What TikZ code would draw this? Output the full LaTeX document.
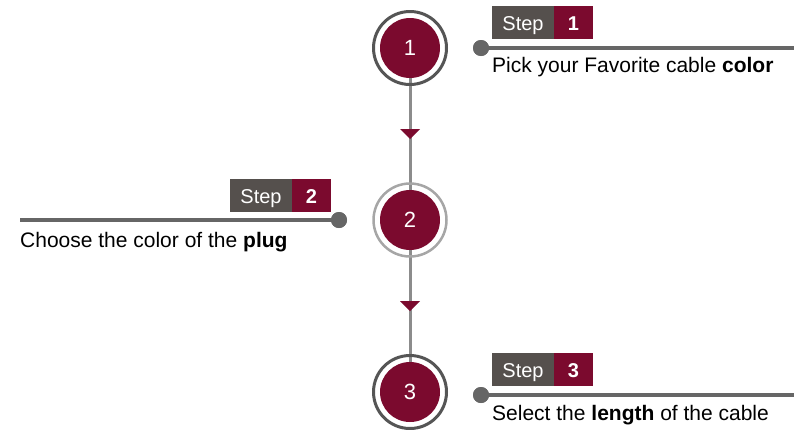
\documentclass[tikz,border=0pt]{standalone}
\usepackage{fontspec}
\setmainfont{Liberation Sans}
\usetikzlibrary{calc}
\definecolor{maroon}{HTML}{7B0A2E}
\definecolor{boxgray}{HTML}{55504D}
\definecolor{linegray}{HTML}{666666}
\definecolor{stemgray}{HTML}{8C8C8C}
\definecolor{ringdark}{HTML}{555555}
\definecolor{ringlight}{HTML}{A6A6A6}
\tikzset{
  x=1pt, y=-1pt,
  stepcircle/.style={circle, fill=maroon, minimum size=60pt, inner sep=0pt, text=white, font=\fontsize{22}{22}\selectfont},
  stepword/.style={fill=boxgray, text=white, minimum width=62pt, minimum height=33pt, inner sep=0pt, text height=16pt, text depth=0pt, font=\fontsize{20}{20}\selectfont},
  stepnum/.style={fill=maroon, text=white, minimum width=39pt, minimum height=33pt, inner sep=0pt, text height=16pt, text depth=0pt, font=\fontsize{20}{20}\selectfont\bfseries},
  leader/.style={draw=linegray, line width=3.5pt},
  leaderdot/.style={circle, fill=linegray, minimum size=16pt, inner sep=0pt},
  caption/.style={anchor=base west, inner sep=0pt, font=\fontsize{21}{21}\selectfont},
  stem/.style={draw=stemgray, line width=3pt},
  downtri/.style={fill=maroon}
}
\begin{document}
\begin{tikzpicture}
\useasboundingbox (0,0) rectangle (794,429);
% circle positions
\coordinate (p1) at (410,48);
\coordinate (p2) at (410,220);
\coordinate (p3) at (410,392);
% stem
\draw[stem] (p1) -- (p3);
% rings
\draw[ringdark, line width=3pt] (p1) circle[radius=36.5];
\draw[ringlight, line width=2.5pt] (p2) circle[radius=36.5];
\draw[ringdark, line width=3pt] (p3) circle[radius=36.5];
\node[stepcircle] (c1) at (p1) {1};
\node[stepcircle] (c2) at (p2) {2};
\node[stepcircle] (c3) at (p3) {3};
% arrows
\fill[downtri] ($(p1)!0.5!(p2)$) ++(-10,-5) -- ++(20,0) -- ++(-10,10) -- cycle;
\fill[downtri] ($(p2)!0.5!(p3)$) ++(-10,-5) -- ++(20,0) -- ++(-10,10) -- cycle;
% step 1
\node[leaderdot] (d1) at (481,48) {};
\coordinate (e1) at (794,48);
\draw[leader] (d1.center) -- (e1);
\node[leaderdot] at (481,48) {};
\node[stepword] (w1) at (523,22.5) {Step};
\node[stepnum] (n1) at (573.5,22.5) {1};
\node[caption] (t1) at (492,72) {Pick your Favorite cable \textbf{color}};
% step 2
\node[leaderdot] (d2) at (339,220) {};
\coordinate (e2) at (20,220);
\draw[leader] (e2) -- (d2.center);
\node[leaderdot] at (339,220) {};
\node[stepword] (w2) at (261,195) {Step};
\node[stepnum] (n2) at (311.5,195) {2};
\node[caption] (t2) at (20,247) {Choose the color of the \textbf{plug}};
% step 3
\node[leaderdot] (d3) at (481,395) {};
\coordinate (e3) at (794,395);
\draw[leader] (d3.center) -- (e3);
\node[leaderdot] at (481,395) {};
\node[stepword] (w3) at (523,369.5) {Step};
\node[stepnum] (n3) at (573.5,369.5) {3};
\node[caption] (t3) at (492,420) {Select the \textbf{length} of the cable};
\end{tikzpicture}
\end{document}
